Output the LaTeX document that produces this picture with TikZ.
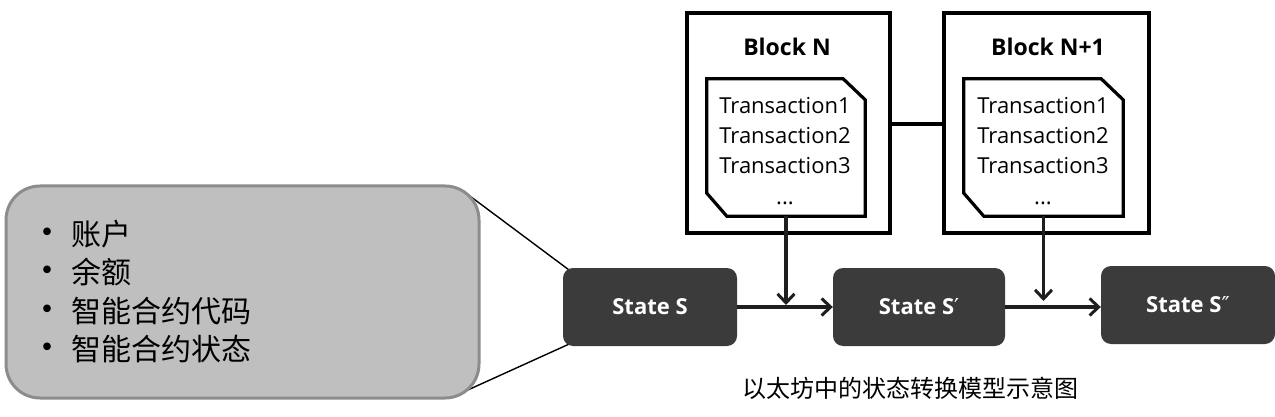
\documentclass[tikz,border=0pt]{standalone}
\usepackage{fontspec}
\setmainfont{Open Sans}
\newfontfamily\cjk{Noto Sans CJK SC}
\newfontfamily\dejavu{DejaVu Sans}
\usetikzlibrary{arrows.meta,calc}
\pgfdeclarelayer{bg}
\pgfsetlayers{bg,main}
\definecolor{statefill}{HTML}{3B3B3B}
\definecolor{bubfill}{HTML}{BFBFBF}
\definecolor{bubdraw}{HTML}{8C8C8C}
\definecolor{arrcol}{HTML}{1E1E1E}
\tikzset{
  blockbox/.style={draw=black, line width=3.2pt, inner sep=0pt},
  blocktitle/.style={font=\bfseries\fontsize{23}{26}\selectfont, inner sep=0pt},
  txarea/.style={inner sep=0pt, align=center, font=\fontsize{22}{30}\selectfont},
  txline/.style={draw=black, line width=3.2pt, line join=miter},
  statebox/.style={fill=statefill, rounded corners=10pt, inner sep=0pt,
    minimum height=78pt, text=white, font=\bfseries\fontsize{22}{26}\selectfont},
  flow/.style={draw=arrcol, line width=3.6pt, -{Straight Barb[length=9pt,width=17pt,line width=3pt]}},
  callout/.style={draw=black, line width=1.4pt},
}
\begin{document}
\begin{tikzpicture}[x=1pt,y=-1pt]
\useasboundingbox (0,0) rectangle (1275,417);
% blocks
\node[blockbox, minimum width=203pt, minimum height=220pt] (bN) at (788.5,123) {};
\node[blockbox, minimum width=205pt, minimum height=220pt] (bN1) at (1046.5,123) {};
\node[blocktitle] (tN) at (787,47) {Block N};
\node[blocktitle] (tN1) at (1048,47) {Block N+1};
\draw[line width=3.2pt] (bN.east |- 0,124) -- (bN1.west |- 0,124);
% transaction boxes
\node[txarea, minimum width=158pt, minimum height=137pt] (t1) at (786,147.5) {};
\node[txarea, minimum width=159pt, minimum height=137pt] (t2) at (1043.5,147.5) {};
\foreach \t in {t1,t2}{
  \draw[txline] (\t.north west) -- ($(\t.north east)+(-22,0)$) -- ($(\t.north east)+(0,21)$)
     -- (\t.south east) -- ($(\t.south west)+(20,0)$) -- ($(\t.south west)+(0,-23)$) -- cycle;
}
\node[txarea] (l1) at (785,151) {Transaction1\\Transaction2\\Transaction3\\[1pt]...};
\node[txarea] (l2) at (1043,151) {Transaction1\\Transaction2\\Transaction3\\[1pt]...};
% states
\node[statebox, minimum width=174pt] (sS) at (650,307) {State S};
\node[statebox, minimum width=172pt] (sS2) at (919,307) {State S{\dejavu\mdseries ′}};
\node[statebox, minimum width=174pt] (sS3) at (1188,305) {State S{\dejavu\mdseries ″}};
% flows
\draw[flow] (sS.east) -- (sS2.west);
\draw[flow] (sS2.east) -- (sS2.east -| sS3.west);
\coordinate (j1) at ($(t1.south |- sS.east)+(0,-2)$);
\coordinate (j2) at ($(t2.south |- sS2.east)+(0,-6)$);
\draw[flow] (t1.south) -- (j1);
\draw[flow] (t2.south) -- (j2);
% bubble
\node[draw=bubdraw, fill=bubfill, line width=3pt, rounded corners=34pt,
  minimum width=473pt, minimum height=212pt] (bub) at (242.5,292) {};
\node[anchor=north west, align=left, inner sep=0pt,
  font=\cjk\fontsize{30}{38.3}\selectfont] (list) at (29,220)
  {\makebox[42pt][l]{\fontsize{36}{20}\selectfont\textbullet}账户\\
   \makebox[42pt][l]{\fontsize{36}{20}\selectfont\textbullet}余额\\
   \makebox[42pt][l]{\fontsize{36}{20}\selectfont\textbullet}智能合约代码\\
   \makebox[42pt][l]{\fontsize{36}{20}\selectfont\textbullet}智能合约状态};
\begin{pgfonlayer}{bg}
\draw[callout] ($(bub.north east)+(-14,9)$) -- ($(sS.north west)+(6,2)$);
\draw[callout] ($(bub.south east)+(-16,-8)$) -- ($(sS.south west)+(6,-2)$);
\end{pgfonlayer}
% caption
\node[font=\cjk\fontsize{24}{28}\selectfont, inner sep=0pt] (cap) at (910,388) {以太坊中的状态转换模型示意图};
\end{tikzpicture}
\end{document}
